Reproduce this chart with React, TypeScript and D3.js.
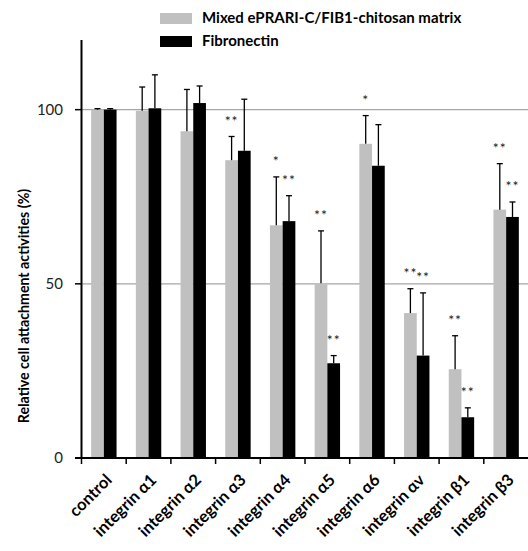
import React from "react";
import * as d3 from "d3";

// values
const categories = [
  "control", "integrin α1", "integrin α2", "integrin α3", "integrin α4",
  "integrin α5", "integrin α6", "integrin αv", "integrin β1", "integrin β3",
];
const seriesNames = ["Mixed ePRARI-C/FIB1-chitosan matrix", "Fibronectin"];
const matrixValues = [100, 99.7, 93.8, 85.5, 66.8, 50.2, 90.2, 41.6, 25.5, 71.3];
const matrixErrors = [0.3, 6.8, 12, 6.8, 13.9, 15, 8.1, 7, 9.6, 13.2];
const fibronectinValues = [100, 100.4, 101.9, 88.2, 68, 27.2, 83.9, 29.4, 11.7, 69.2];
const fibronectinErrors = [0.3, 9.6, 4.9, 14.8, 7.3, 2.2, 11.8, 18, 2.7, 4.3];
const matrixSig = ["", "", "", "**", "*", "**", "*", "**", "**", "**"];
const fibronectinSig = ["", "", "", "", "**", "**", "", "**", "**", "**"];
const yTicks = [0, 50, 100];
const gridTicks = [50, 100];
const yLabel = "Relative cell attachment activities (%)";

const W = 528, H = 551;
const colors = ["#c0c0c0", "#000000"];
const font = "Lato, 'Open Sans', sans-serif";

export default function App() {
  const x0 = d3.scaleBand().domain(categories).range([81.5, 528.5]).padding(0);
  const x1 = d3.scaleBand().domain(seriesNames).range([0, x0.bandwidth()]).paddingInner(0).paddingOuter(0.76);
  const y = d3.scaleLinear().domain([0, 120]).range([458, 40]);

  const series = [
    { name: seriesNames[0], values: matrixValues, errors: matrixErrors, sig: matrixSig, color: colors[0] },
    { name: seriesNames[1], values: fibronectinValues, errors: fibronectinErrors, sig: fibronectinSig, color: colors[1] },
  ];

  return (
    <svg width={W} height={H} style={{ position: "absolute", left: 0, top: 0, background: "#fff" }} fontFamily={font}>
      {/* gridlines */}
      {gridTicks.map((t) => (
        <line key={t} x1={81.5} x2={W} y1={y(t)} y2={y(t)} stroke="#a6a6a6" strokeWidth={1.3} />
      ))}

      {/* bars, error bars, significance marks */}
      {series.map((s) =>
        categories.map((c, i) => {
          const bx = (x0(c) as number) + (x1(s.name) as number);
          const bw = x1.bandwidth();
          const cx = bx + bw / 2;
          const top = y(s.values[i] + s.errors[i]);
          return (
            <g key={s.name + c}>
              <rect x={bx} y={y(s.values[i])} width={bw} height={y(0) - y(s.values[i])} fill={s.color} />
              <line x1={cx} x2={cx} y1={y(s.values[i])} y2={top} stroke="#000" strokeWidth={1.3} />
              <line x1={cx - 3} x2={cx + 3} y1={top} y2={top} stroke="#000" strokeWidth={1.3} />
              {s.sig[i] && (
                <text x={cx} y={top - 10.5} textAnchor="middle" fontSize={14} letterSpacing={1} fill="#222">
                  {s.sig[i]}
                </text>
              )}
            </g>
          );
        })
      )}

      {/* y axis */}
      <line x1={81.5} x2={81.5} y1={40} y2={y(0)} stroke="#000" strokeWidth={2} />
      {yTicks.map((t) => (
        <g key={t}>
          <line x1={75} x2={81.5} y1={y(t)} y2={y(t)} stroke="#000" strokeWidth={1.5} />
          <text x={63} y={y(t) + 5} textAnchor="end" fontSize={15} fill="#222">{t}</text>
        </g>
      ))}
      <text transform={`translate(29,306) rotate(-90)`} textAnchor="middle" fontSize={14.2} fontWeight="bold" fill="#000">
        {yLabel}
      </text>

      {/* x axis */}
      <line x1={75} x2={W} y1={y(0)} y2={y(0)} stroke="#000" strokeWidth={2} />
      {categories.map((c) => (
        <line key={"tk" + c} x1={(x0(c) as number)} x2={(x0(c) as number)} y1={y(0)} y2={y(0) + 6} stroke="#000" strokeWidth={1.5} />
      ))}
      {categories.map((c) => {
        const cx = (x0(c) as number) + x0.bandwidth() / 2;
        return (
          <text key={"lb" + c} transform={`translate(${cx + 9},${y(0) + 23}) rotate(-45)`} textAnchor="end" fontSize={16.5} fontWeight="bold" fill="#000">
            {c}
          </text>
        );
      })}

      {/* legend */}
      {series.map((s, i) => (
        <g key={"lg" + s.name} transform={`translate(160,${13 + i * 23})`}>
          <rect x={0} y={0} width={32} height={11} fill={s.color} />
          <text x={42} y={10} fontSize={15} fontWeight="bold" fill="#000">{s.name}</text>
        </g>
      ))}
    </svg>
  );
}
